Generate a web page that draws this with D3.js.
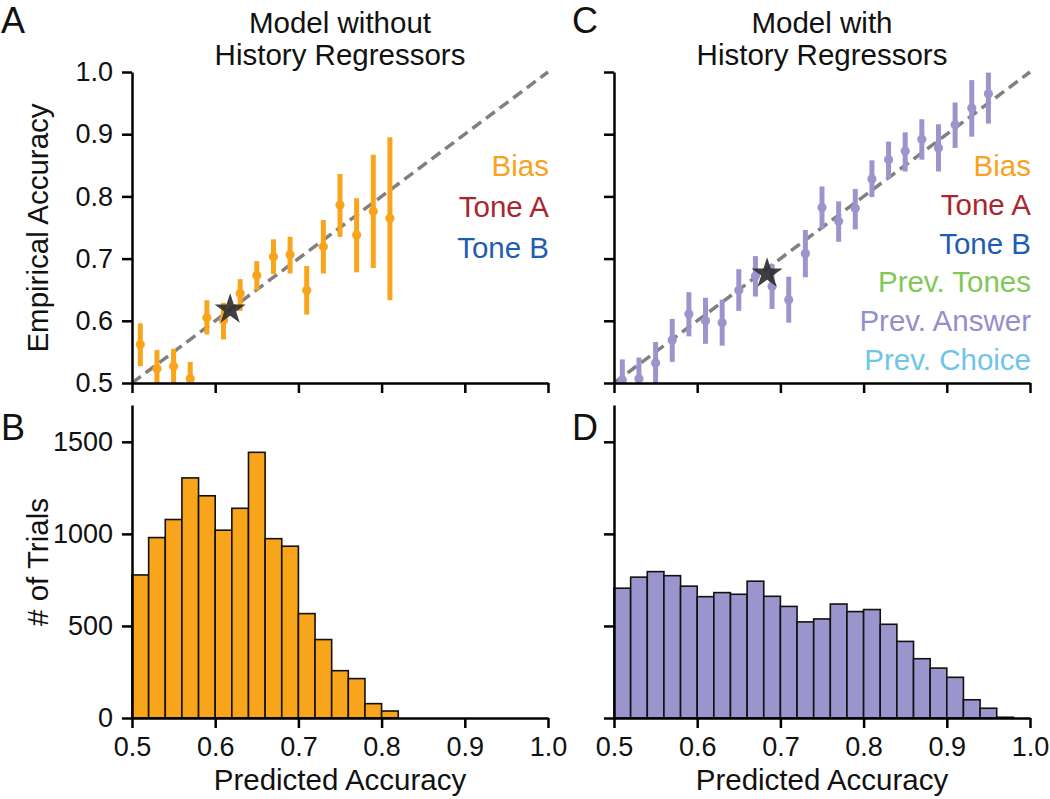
<!DOCTYPE html>
<html>
<head>
<meta charset="utf-8">
<script src="https://cdn.jsdelivr.net/npm/d3@7"></script>
<style>
  body { margin: 0; background: #fff; }
  text { font-family: "Liberation Sans", Arial, sans-serif; fill: #111; }
</style>
</head>
<body>
<svg id="fig" width="1050" height="799"></svg>
<script>
// ---- DATA ----
const xTicks = [0.5, 0.6, 0.7, 0.8, 0.9, 1.0];
const accTicks = [0.5, 0.6, 0.7, 0.8, 0.9, 1.0];
const countTicks = [0, 500, 1000, 1500];

// panel A (model without history regressors)
const predA = [0.51, 0.53, 0.55, 0.57, 0.59, 0.61, 0.63, 0.65, 0.67, 0.69, 0.71, 0.73, 0.75, 0.77, 0.79, 0.81];
const accA  = [0.562, 0.523, 0.527, 0.507, 0.605, 0.601, 0.644, 0.673, 0.703, 0.706, 0.649, 0.719, 0.786, 0.738, 0.776, 0.765];
const lowA  = [0.527, 0.493, 0.499, 0.480, 0.578, 0.570, 0.616, 0.649, 0.675, 0.676, 0.610, 0.676, 0.735, 0.678, 0.685, 0.633];
const highA = [0.596, 0.553, 0.555, 0.534, 0.633, 0.629, 0.667, 0.696, 0.731, 0.735, 0.688, 0.762, 0.836, 0.797, 0.867, 0.895];
const starA = [0.618, 0.618];

// panel C (model with history regressors)
const predC = [0.51, 0.53, 0.55, 0.57, 0.59, 0.61, 0.63, 0.65, 0.67, 0.69, 0.71, 0.73, 0.75, 0.77, 0.79, 0.81, 0.83, 0.85, 0.87, 0.89, 0.91, 0.93, 0.95];
const accC  = [0.505, 0.507, 0.532, 0.569, 0.611, 0.600, 0.597, 0.649, 0.672, 0.655, 0.634, 0.708, 0.782, 0.760, 0.781, 0.828, 0.859, 0.873, 0.892, 0.878, 0.915, 0.942, 0.965];
const lowC  = [0.470, 0.473, 0.498, 0.534, 0.575, 0.563, 0.560, 0.616, 0.639, 0.619, 0.597, 0.670, 0.748, 0.727, 0.747, 0.799, 0.828, 0.840, 0.859, 0.840, 0.878, 0.896, 0.917];
const highC = [0.538, 0.541, 0.566, 0.603, 0.646, 0.637, 0.634, 0.683, 0.704, 0.691, 0.671, 0.746, 0.816, 0.792, 0.812, 0.858, 0.888, 0.903, 0.924, 0.916, 0.951, 0.987, 0.999];
const starC = [0.684, 0.676];

// histograms (bin left edges, width 0.02)
const binsB   = [0.50, 0.52, 0.54, 0.56, 0.58, 0.60, 0.62, 0.64, 0.66, 0.68, 0.70, 0.72, 0.74, 0.76, 0.78, 0.80];
const countsB = [777, 980, 1078, 1304, 1207, 1020, 1139, 1443, 974, 933, 567, 426, 257, 214, 78, 38];
const binsD   = [0.50, 0.52, 0.54, 0.56, 0.58, 0.60, 0.62, 0.64, 0.66, 0.68, 0.70, 0.72, 0.74, 0.76, 0.78, 0.80, 0.82, 0.84, 0.86, 0.88, 0.90, 0.92, 0.94, 0.96];
const countsD = [705, 765, 795, 773, 716, 659, 681, 672, 743, 661, 606, 522, 538, 619, 578, 589, 509, 416, 322, 271, 221, 99, 53, 4];
const binWidth = 0.02;

const legendA = ['Bias', 'Tone A', 'Tone B'];
const legendC = ['Bias', 'Tone A', 'Tone B', 'Prev. Tones', 'Prev. Answer', 'Prev. Choice'];

// ---- STYLE ----
const _color = {
  orange: '#F8A51C', purple: '#9A96CD', dash: '#808080', star: '#2b2b2b',
  legend: {'Bias': '#F9A21B', 'Tone A': '#A8272E', 'Tone B': '#1F5DB3',
           'Prev. Tones': '#80C857', 'Prev. Answer': '#948FCB', 'Prev. Choice': '#6FC5E7'}
};
const _font = {tick: 27, label: 29.5, letter: 36};
const _panel = {
  left: [132, 614], width: 416,
  top: 72, scatterH: 311,
  histTop: 405, histBottom: 718
};

const svg = d3.select('#fig');

function styleAxis(g){
  g.select('.domain').attr('stroke', '#000').attr('stroke-width', 2.5);
  g.selectAll('.tick line').attr('stroke', '#000').attr('stroke-width', 2.5);
  g.selectAll('.tick text').attr('font-size', _font.tick).attr('fill', '#111')
     .attr('font-family', '"Liberation Sans", Arial, sans-serif');
}

function drawScatter(idx, pred, acc, low, high, star, color, legend, clipId){
  const x0 = _panel.left[idx];
  const x = d3.scaleLinear().domain([0.5, 1.0]).range([x0, x0 + _panel.width]);
  const y = d3.scaleLinear().domain([0.5, 1.0]).range([_panel.top + _panel.scatterH, _panel.top]);

  svg.append('clipPath').attr('id', clipId)
      .append('rect')
        .attr('x', x0).attr('y', _panel.top - 2)
        .attr('width', _panel.width + 4).attr('height', _panel.scatterH + 2);

  const plot = svg.append('g').attr('clip-path', `url(#${clipId})`);
      plot.append('line')
            .attr('x1', x(0.5)).attr('y1', y(0.5))
            .attr('x2', x(1.0)).attr('y2', y(1.0))
            .attr('stroke', _color.dash)
            .attr('stroke-width', 3.5)
            .attr('stroke-dasharray', '11,6');
      plot.selectAll('line.err')
            .data(pred)
            .enter()
          .append('line')
            .attr('class', 'err')
            .attr('x1', d => x(d)).attr('x2', d => x(d))
            .attr('y1', (d, i) => y(low[i]))
            .attr('y2', (d, i) => y(high[i]))
            .attr('stroke', color)
            .attr('stroke-width', 5);
      plot.selectAll('circle')
            .data(pred)
            .enter()
          .append('circle')
            .attr('cx', d => x(d))
            .attr('cy', (d, i) => y(acc[i]))
            .attr('r', 4.6)
            .attr('fill', color);
      plot.append('path')
            .attr('d', d3.symbol(d3.symbolStar, 300)())
            .attr('transform', `translate(${x(star[0])}, ${y(star[1])})`)
            .attr('fill', _color.star)
            .attr('fill-opacity', 0.9);

  const yAxis = svg.append('g')
        .attr('transform', `translate(${x0}, 0)`)
        .call(d3.axisLeft(y).tickValues(accTicks).tickSize(10).tickSizeOuter(0).tickPadding(9)
                .tickFormat(idx === 0 ? d3.format('.1f') : ''));
  styleAxis(yAxis);
  const xAxis = svg.append('g')
        .attr('transform', `translate(0, ${_panel.top + _panel.scatterH})`)
        .call(d3.axisBottom(x).tickValues(xTicks).tickSize(10).tickSizeOuter(0).tickFormat(''));
  styleAxis(xAxis);

  const lineGap = idx === 0 ? 41 : 38.8;
  svg.append('g').selectAll('text')
      .data(legend)
      .enter()
    .append('text')
      .attr('x', x0 + _panel.width + 1)
      .attr('y', (d, i) => 176 + i * lineGap)
      .attr('text-anchor', 'end')
      .attr('font-size', _font.label)
      .style('fill', d => _color.legend[d])
      .text(d => d);
}

function drawHist(idx, bins, counts, color){
  const x0 = _panel.left[idx];
  const x = d3.scaleLinear().domain([0.5, 1.0]).range([x0, x0 + _panel.width]);
  const y = d3.scaleLinear().domain([0, 1700]).range([_panel.histBottom, _panel.histTop]);

  svg.append('g').selectAll('rect')
      .data(bins)
      .enter()
    .append('rect')
      .attr('x', d => x(d))
      .attr('y', (d, i) => y(counts[i]))
      .attr('width', d => x(d + binWidth) - x(d))
      .attr('height', (d, i) => y(0) - y(counts[i]))
      .attr('fill', color)
      .attr('stroke', '#111')
      .attr('stroke-width', 1.6);

  const yAxis = svg.append('g')
        .attr('transform', `translate(${x0}, 0)`)
        .call(d3.axisLeft(y).tickValues(countTicks).tickSize(10).tickSizeOuter(0).tickPadding(9)
                .tickFormat(idx === 0 ? d3.format('d') : ''));
  styleAxis(yAxis);
  const xAxis = svg.append('g')
        .attr('transform', `translate(0, ${_panel.histBottom})`)
        .call(d3.axisBottom(x).tickValues(xTicks).tickSize(10).tickSizeOuter(0).tickPadding(9)
                .tickFormat(d3.format('.1f')));
  styleAxis(xAxis);

  svg.append('text')
      .attr('x', x0 + _panel.width / 2)
      .attr('y', 790)
      .attr('text-anchor', 'middle')
      .attr('font-size', _font.label)
      .text('Predicted Accuracy');
}

drawScatter(0, predA, accA, lowA, highA, starA, _color.orange, legendA, 'clipA');
drawScatter(1, predC, accC, lowC, highC, starC, _color.purple, legendC, 'clipC');
drawHist(0, binsB, countsB, _color.orange);
drawHist(1, binsD, countsD, _color.purple);

// titles
const titles = [['Model without', 'History Regressors'], ['Model with', 'History Regressors']];
titles.forEach((t, i) => {
  svg.append('text')
      .attr('x', _panel.left[i] + _panel.width / 2)
      .attr('text-anchor', 'middle')
      .attr('font-size', _font.label)
      .selectAll('tspan')
      .data(t)
      .enter()
    .append('tspan')
      .attr('x', _panel.left[i] + _panel.width / 2)
      .attr('y', (d, j) => 33 + j * 32)
      .text(d => d);
});

// axis labels
svg.append('text')
    .attr('transform', 'translate(48, 228) rotate(-90)')
    .attr('text-anchor', 'middle')
    .attr('font-size', _font.label)
    .text('Empirical Accuracy');
svg.append('text')
    .attr('transform', 'translate(48, 562) rotate(-90)')
    .attr('text-anchor', 'middle')
    .attr('font-size', _font.label)
    .text('# of Trials');

// panel letters
const letters = [['A', 1, 33], ['B', 1, 440], ['C', 572, 33], ['D', 572, 440]];
svg.selectAll('text.letter')
    .data(letters)
    .enter()
  .append('text')
    .attr('class', 'letter')
    .attr('x', d => d[1])
    .attr('y', d => d[2])
    .attr('font-size', _font.letter)
    .text(d => d[0]);
</script>
</body>
</html>
